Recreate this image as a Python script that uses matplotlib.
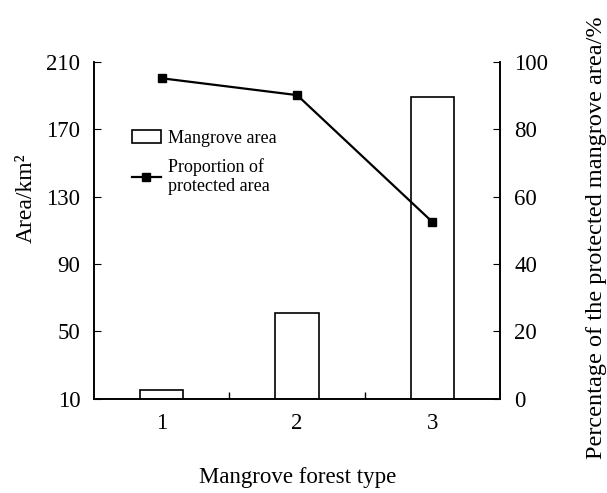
import matplotlib
matplotlib.use('Agg')
import matplotlib.pyplot as plt

forest_type = [1, 2, 3]
mangrove_area = [15, 61, 189]          # km2
protected_pct = [95.2, 90.2, 52.5]     # %

plt.rcParams['font.family'] = ['Liberation Serif', 'DejaVu Serif']

fig = plt.figure(figsize=(6.07, 4.93), dpi=100)
ax = fig.add_axes([0.155, 0.191, 0.669, 0.683])
ax2 = ax.twinx()

bars = ax.bar(forest_type, mangrove_area, width=0.32, bottom=0, color='white',
              edgecolor='black', linewidth=1.2, label='Mangrove area')
ln, = ax2.plot(forest_type, protected_pct, color='black', lw=1.6, marker='s',
               markersize=6, label='Proportion of\nprotected area')

ax.set_xlim(0.5, 3.5)
ax.set_ylim(10, 210)
ax.set_yticks([10, 50, 90, 130, 170, 210])
ax2.set_ylim(0, 100)
ax2.set_yticks([0, 20, 40, 60, 80, 100])

ax.set_xticks(forest_type)
ax.set_xticks([1.5, 2.5], minor=True)
ax.tick_params(axis='x', which='major', length=0, labelsize=16.5, pad=10)
ax.tick_params(axis='x', which='minor', direction='in', length=5, width=1)
ax.tick_params(axis='y', direction='in', length=5, labelsize=16.5, pad=10)
ax2.tick_params(axis='y', direction='in', length=5, labelsize=16.5, pad=10)

for a in (ax, ax2):
    a.spines['top'].set_visible(False)
    for s in a.spines.values():
        s.set_linewidth(1.2)

ax.set_xlabel('Mangrove forest type', fontsize=16.5, labelpad=24)
ax.set_ylabel('Area/km²', fontsize=17)
ax.yaxis.set_label_coords(-0.142, 0.596)
ax2.set_ylabel('Percentage of the protected mangrove area/%', fontsize=17.5)
ax2.yaxis.set_label_coords(1.212, 0.478)

ax.legend([bars, ln], ['Mangrove area', 'Proportion of\nprotected area'],
          loc='upper left', bbox_to_anchor=(0.075, 0.82), frameon=False,
          fontsize=13, handlelength=1.6, handletextpad=0.4, borderaxespad=0,
          labelspacing=0.6)

fig.savefig('out.png', dpi=100)
